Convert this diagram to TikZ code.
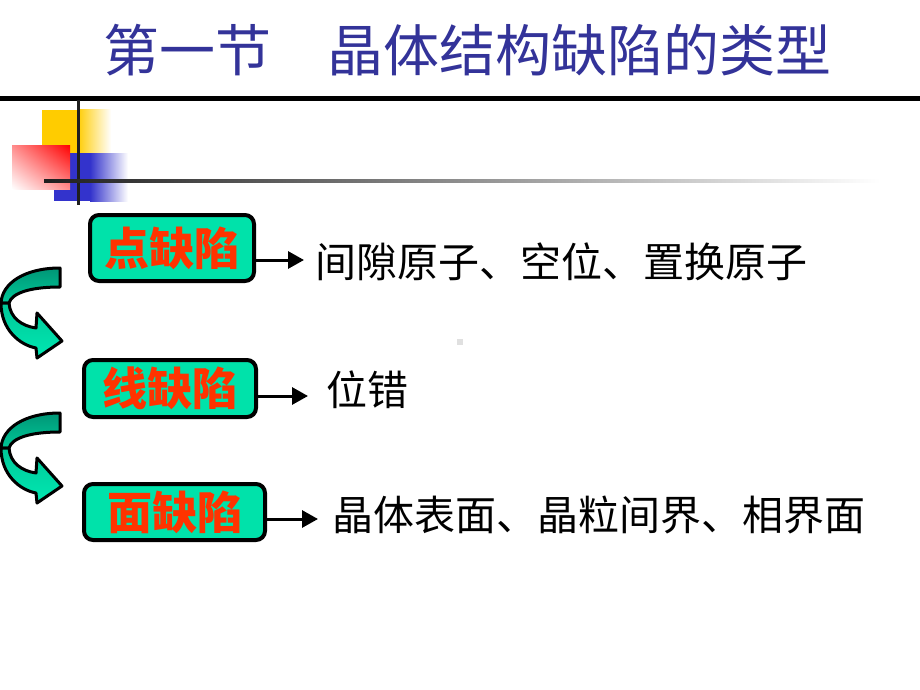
\documentclass[tikz,border=0pt]{standalone}
\usepackage{fontspec}
\setmainfont{Noto Sans CJK SC}
\usetikzlibrary{arrows.meta}
\usetikzlibrary{shapes}
\usetikzlibrary{shadings}
\usetikzlibrary{positioning}

\definecolor{titleblue}{RGB}{51,51,153}
\definecolor{boxgreen}{RGB}{0,226,170}
\definecolor{boxred}{RGB}{255,51,0}
\definecolor{bandtop}{RGB}{0,150,118}
\definecolor{bandmid}{RGB}{0,200,152}
\definecolor{bandlow}{RGB}{0,232,178}
\definecolor{decoyellow}{RGB}{255,204,0}
\definecolor{decoblue}{RGB}{51,51,204}

\begin{document}
\begin{tikzpicture}[
    x=1pt, y=-1pt,
    font=\fontsize{41}{44}\selectfont
]
\tikzset{
    defbox/.style = {draw=black, line width=4pt, rounded corners=9pt, fill=boxgreen,
                     text=boxred, font=\fontsize{45}{48}\selectfont\bfseries,
                     inner sep=0pt},
    linkarrow/.style = {-{Triangle[length=16pt,width=17pt]}, line width=3pt},
    itemtext/.style = {anchor=west, inner sep=0pt},
    turnband/.style = {draw=black, line width=3pt, line join=round}
}
\useasboundingbox (0,0) rectangle (920,690);

% title and rule
\node[text=titleblue, font=\fontsize{56}{60}\selectfont] (title) at (467,50) {第一节　晶体结构缺陷的类型};
\fill[black] (0,96) rectangle (920,101);

% corner decoration
\fill[decoyellow] (42,110) rectangle (78,153);
\shade[left color=decoyellow, right color=white] (77,110) rectangle (111,153);
\fill[decoblue] (54,153) rectangle (91,201);
\shade[left color=decoblue, right color=white] (90,153) rectangle (128,201);
\shade[upper right=red, lower left=white, upper left=red!45, lower right=red!45]
    (12,145) rectangle (70,189);
\fill[black!88] (76.5,100) rectangle (79.5,205);
\shade[left color=black!88, right color=white] (44,179.5) rectangle (880,182.5);
\fill[black!12] (457,339) rectangle (463,345);

% defect boxes
\node[defbox, minimum width=164pt, minimum height=66pt] (point) at (172,248) {点缺陷};
\node[defbox, minimum width=172pt, minimum height=57pt] (line) at (170,388.5) {线缺陷};
\node[defbox, minimum width=181pt, minimum height=56pt] (face) at (174.5,512) {面缺陷};

\coordinate (pointend) at (304,260);
\coordinate (lineend) at (308,396);
\coordinate (faceend) at (318,519);
\draw[linkarrow] (point.east |- pointend) -- (pointend);
\draw[linkarrow] (line.east |- lineend) -- (lineend);
\draw[linkarrow] (face.east |- faceend) -- (faceend);

\node[itemtext] (pointtext) at (315,262) {间隙原子、空位、置换原子};
\node[itemtext] (linetext) at (326,390) {位错};
\node[itemtext] (facetext) at (332,515) {晶体表面、晶粒间界、相界面};

% curved arrows between the boxes
\foreach \dy in {0,145} {
  \begin{scope}[shift={(0,\dy)}]
    \path[turnband, top color=bandtop, bottom color=bandmid]
      (60,268) .. controls (25,268) and (2,283) .. (1,303)
      -- (9,303) .. controls (12,293) and (30,287) .. (60,287) -- cycle;
    \path[turnband, top color=bandmid, bottom color=bandlow]
      (1,303) .. controls (1,330) and (20,345) .. (36,348)
      -- (37,358) -- (62,341) -- (37,313) -- (36,328)
      .. controls (22,326) and (10,318) .. (9,303) -- cycle;
  \end{scope}
}
\end{tikzpicture}
\end{document}
